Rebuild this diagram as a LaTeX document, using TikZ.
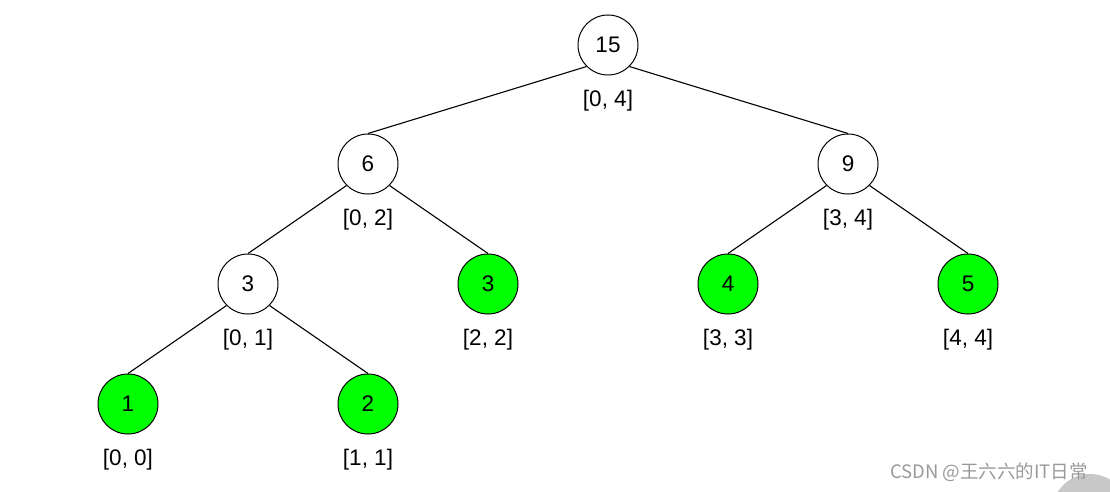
\documentclass[tikz,border=0pt]{standalone}
\usepackage{fontspec}
\setmainfont{Liberation Sans}
\newfontfamily\cjkfont{Noto Sans CJK SC}
\definecolor{leafgreen}{HTML}{00FF00}
\definecolor{wmgray}{HTML}{9A9A9A}
\definecolor{wmcircle}{HTML}{C8C8C8}
\begin{document}
\begin{tikzpicture}[x=1pt,y=-1pt,
  tnode/.style={circle,draw=black,line width=1pt,minimum size=60pt,inner sep=0pt,fill=white,font=\fontsize{22.5}{24}\selectfont},
  leaf/.style={tnode,fill=leafgreen},
  rng/.style={font=\fontsize{22.5}{24}\selectfont,inner sep=0pt},
  edge/.style={draw=black,line width=1.1pt}]
\useasboundingbox (0,0) rectangle (1110,492);
\fill[white] (0,0) rectangle (1110,492);
% nodes
\node[tnode] (n15) at (608,45) {15};
\node[tnode] (n6) at (368,164) {6};
\node[tnode] (n9) at (848,164) {9};
\node[tnode] (n3) at (248,284) {3};
\node[leaf] (g3) at (488,284) {3};
\node[leaf] (g4) at (728,284) {4};
\node[leaf] (g5) at (968,284) {5};
\node[leaf] (g1) at (128,404) {1};
\node[leaf] (g2) at (368,404) {2};
% range labels
\node[rng] (r15) at (608,101) {[0, 4]};
\node[rng] (r6) at (368,220) {[0, 2]};
\node[rng] (r9) at (848,220) {[3, 4]};
\node[rng] (r3) at (248,340) {[0, 1]};
\node[rng] (rg3) at (488,340) {[2, 2]};
\node[rng] (rg4) at (728,340) {[3, 3]};
\node[rng] (rg5) at (968,340) {[4, 4]};
\node[rng] (rg1) at (128,460) {[0, 0]};
\node[rng] (rg2) at (368,460) {[1, 1]};
% edges
\draw[edge] (n15.south west) -- (n6.north);
\draw[edge] (n15.south east) -- (n9.north);
\draw[edge] (n6.south west) -- (n3.north);
\draw[edge] (n6.south east) -- (g3.north);
\draw[edge] (n9.south west) -- (g4.north);
\draw[edge] (n9.south east) -- (g5.north);
\draw[edge] (n3.south west) -- (g1.north);
\draw[edge] (n3.south east) -- (g2.north);
% watermark
\begin{scope}
\clip (0,0) rectangle (1110,492);
\fill[wmcircle] (1090,512) circle (38);
\end{scope}
\node[text=wmgray,font=\cjkfont\fontsize{18.5}{20}\selectfont,anchor=west,inner sep=0pt] (wm) at (890,472) {CSDN @王六六的IT日常};
\end{tikzpicture}
\end{document}
